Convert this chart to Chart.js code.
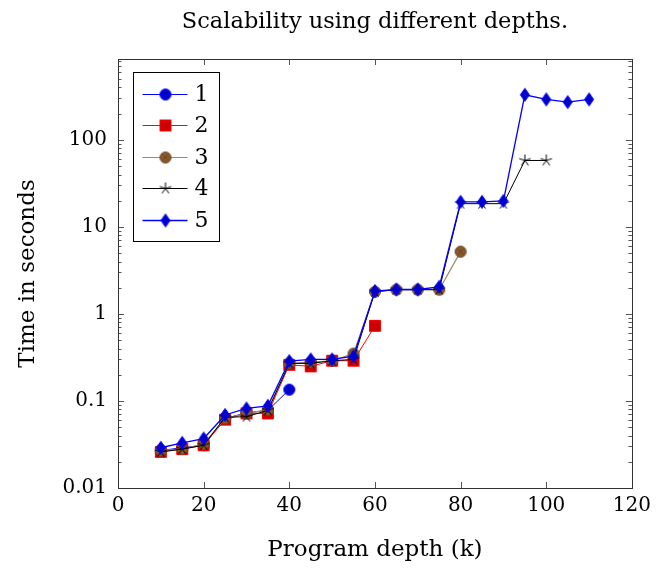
<!DOCTYPE html>
<html>
<head>
<meta charset="utf-8">
<script src="https://cdn.jsdelivr.net/npm/chart.js@4"></script>
<style>
  html, body { margin: 0; padding: 0; background: #fff; }
  #wrap { width: 657px; height: 570px; }
</style>
</head>
<body>
<div id="wrap"><canvas id="myChart"></canvas></div>
<script>
//Data
const depths = [10, 15, 20, 25, 30, 35, 40, 45, 50, 55, 60, 65, 70, 75, 80, 85, 90, 95, 100, 105, 110];
const series_1 = [0.027, 0.029, 0.031, 0.063, 0.073, 0.078, 0.135];
const series_2 = [0.026, 0.028, 0.031, 0.061, 0.072, 0.072, 0.26, 0.25, 0.29, 0.29, 0.73];
const series_3 = [0.027, 0.028, 0.032, 0.063, 0.072, 0.079, 0.27, 0.28, 0.29, 0.35, 1.8, 1.9, 1.9, 1.9, 5.2];
const series_4 = [0.026, 0.028, 0.031, 0.065, 0.066, 0.078, 0.27, 0.27, 0.29, 0.3, 1.8, 1.9, 1.9, 1.9, 18.5, 18.5, 18.5, 58, 58];
const series_5 = [0.029, 0.033, 0.037, 0.069, 0.082, 0.088, 0.287, 0.3, 0.3, 0.327, 1.83, 1.91, 1.91, 2.05, 19.4, 19.4, 19.9, 330, 292, 272, 292];
const seriesNames = ["1", "2", "3", "4", "5"];
const xTicks = [0, 20, 40, 60, 80, 100, 120];
const yTicks = [0.01, 0.1, 1, 10, 100];

const FONT = "'DejaVu Serif', 'Liberation Serif', serif";

//Marker images (pgfplots style marks)
const makeMarker = (kind, fill, stroke) => {
  const c = document.createElement("canvas");
  c.width = 16;
  c.height = 16;
  const ctx = c.getContext("2d");
  const m = 8;
  ctx.lineWidth = 1;
  ctx.fillStyle = fill;
  ctx.strokeStyle = stroke;
  ctx.beginPath();
  if (kind === "circle" || kind === "otimes") {
    ctx.arc(m, m, 5.5, 0, Math.PI * 2);
    ctx.fill();
    ctx.stroke();
    if (kind === "otimes") {
      const d = 5.5 * Math.SQRT1_2;
      ctx.beginPath();
      ctx.moveTo(m - d, m - d);
      ctx.lineTo(m + d, m + d);
      ctx.moveTo(m + d, m - d);
      ctx.lineTo(m - d, m + d);
      ctx.stroke();
    }
  } else if (kind === "square") {
    ctx.rect(m - 5.5, m - 5.5, 11, 11);
    ctx.fill();
    ctx.stroke();
  } else if (kind === "diamond") {
    ctx.moveTo(m, m - 6.5);
    ctx.lineTo(m + 4.5, m);
    ctx.lineTo(m, m + 6.5);
    ctx.lineTo(m - 4.5, m);
    ctx.closePath();
    ctx.fill();
    ctx.stroke();
  } else if (kind === "star") {
    for (let i = 0; i < 5; i++) {
      const a = -Math.PI / 2 + (i * 2 * Math.PI) / 5;
      ctx.moveTo(m, m);
      ctx.lineTo(m + 6 * Math.cos(a), m + 6 * Math.sin(a));
    }
    ctx.stroke();
  }
  return c;
};

const styles = [
  { line: "#0000ff", width: 1, marker: makeMarker("circle", "#0000cc", "#0000ff") },
  { line: "#ff0000", width: 1, marker: makeMarker("square", "#cc0000", "#ff0000") },
  { line: "#a28466", width: 1.2, marker: makeMarker("otimes", "#8b5a2b", "#6b4422") },
  { line: "#000000", width: 1, marker: makeMarker("star", "#000000", "#000000") },
  { line: "#0000ff", width: 1.3, marker: makeMarker("diamond", "#0000cc", "#0000ff") },
];

const allSeries = [series_1, series_2, series_3, series_4, series_5];

const datasets = allSeries.map((values, i) => ({
  label: seriesNames[i],
  data: values.map((v, j) => ({ x: depths[j], y: v })),
  borderColor: styles[i].line,
  backgroundColor: styles[i].line,
  borderWidth: styles[i].width,
  pointStyle: styles[i].marker,
  pointRadius: 6,
  pointHoverRadius: 6,
  tension: 0,
  order: allSeries.length - i,
}));

//Frame, inward ticks and legend box like pgfplots
const framePlugin = {
  id: "frame",
  afterDatasetsDraw(chart) {
    const { ctx, chartArea } = chart;
    const { left, right, top, bottom } = chartArea;
    const xs = chart.scales.x;
    const ys = chart.scales.y;
    ctx.save();
    ctx.strokeStyle = "#555";
    ctx.lineWidth = 1;
    ctx.beginPath();
    xTicks.forEach((t) => {
      const px = Math.round(xs.getPixelForValue(t)) + 0.5;
      ctx.moveTo(px, bottom);
      ctx.lineTo(px, bottom - 6);
      ctx.moveTo(px, top);
      ctx.lineTo(px, top + 6);
    });
    for (let e = -2; e <= 3; e++) {
      for (let k = 1; k <= 9; k++) {
        const v = k * Math.pow(10, e);
        if (v < ys.min || v > ys.max) continue;
        const py = Math.round(ys.getPixelForValue(v)) + 0.5;
        const len = k === 1 ? 6 : 3.5;
        ctx.moveTo(left, py);
        ctx.lineTo(left + len, py);
        ctx.moveTo(right, py);
        ctx.lineTo(right - len, py);
      }
    }
    ctx.stroke();
    ctx.strokeStyle = "#333";
    ctx.strokeRect(Math.round(left) + 0.5, Math.round(top) + 0.5, Math.round(right - left), Math.round(bottom - top));

    // legend
    const bx = Math.round(left) + 15.5;
    const by = Math.round(top) + 13.5;
    const bw = 86;
    const rowH = 31.6;
    const bh = 169;
    ctx.fillStyle = "#fff";
    ctx.fillRect(bx, by, bw, bh);
    ctx.strokeStyle = "#000";
    ctx.strokeRect(bx, by, bw, bh);
    ctx.font = "22px " + FONT;
    ctx.textBaseline = "middle";
    ctx.textAlign = "left";
    styles.forEach((st, i) => {
      const cy = Math.round(by + 21 + i * rowH) + 0.5;
      ctx.strokeStyle = st.line;
      ctx.lineWidth = st.width;
      ctx.beginPath();
      ctx.moveTo(bx + 9, cy);
      ctx.lineTo(bx + 54, cy);
      ctx.stroke();
      const img = st.marker;
      ctx.drawImage(img, bx + 32 - img.width / 2, cy - img.height / 2);
      ctx.fillStyle = "#000";
      ctx.fillText(seriesNames[i], bx + 61, cy + 1);
    });
    ctx.restore();
  },
};

const config = {
  type: "line",
  data: { datasets: datasets },
  options: {
    responsive: false,
    animation: false,
    layout: { padding: { left: 0, right: 23, top: 0, bottom: 0 } },
    scales: {
      x: {
        type: "linear",
        min: 0,
        max: 120,
        afterBuildTicks: (scale) => {
          scale.ticks = xTicks.map((v) => ({ value: v }));
        },
        afterFit: (scale) => {
          scale.height = 82;
        },
        grid: { display: false, drawTicks: false },
        border: { display: false },
        ticks: {
          color: "#000",
          padding: 6,
          font: { family: FONT, size: 20 },
        },
        title: {
          display: true,
          text: "Program depth (k)",
          color: "#000",
          font: { family: FONT, size: 23 },
          padding: { top: 0, bottom: 6 },
        },
      },
      y: {
        type: "logarithmic",
        min: 0.01,
        max: 850,
        afterBuildTicks: (scale) => {
          scale.ticks = yTicks.map((v) => ({ value: v }));
        },
        afterFit: (scale) => {
          scale.width = 118;
        },
        grid: { display: false, drawTicks: false },
        border: { display: false },
        ticks: {
          color: "#000",
          padding: 11,
          font: { family: FONT, size: 20 },
          callback: (v) => String(v),
        },
        title: {
          display: true,
          text: "Time in seconds",
          color: "#000",
          font: { family: FONT, size: 23 },
          padding: { top: 14, bottom: 0 },
        },
      },
    },
    plugins: {
      legend: { display: false },
      tooltip: { enabled: false },
      title: {
        display: true,
        fullSize: false,
        text: "Scalability using different depths.",
        color: "#000",
        font: { family: FONT, size: 22.5, weight: "normal" },
        padding: { top: 9, bottom: 23 },
      },
    },
  },
  plugins: [framePlugin],
};

const canvas = document.getElementById("myChart");
canvas.width = 657;
canvas.height = 570;
var myChart = new Chart(canvas, config);
</script>
</body>
</html>
